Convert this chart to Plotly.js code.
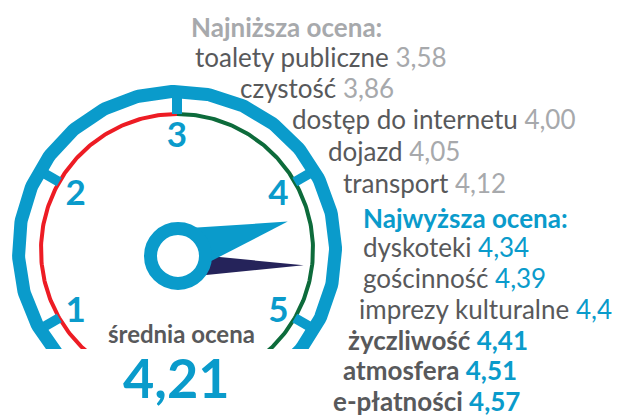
<!DOCTYPE html>
<html><head><meta charset="utf-8">
<script src="https://cdn.plot.ly/plotly-3.0.1.min.js"></script>
<style>html,body{margin:0;padding:0;background:#fff}#chart{width:623px;height:417px}</style>
</head><body><div id="chart"></div>
<script>
// ---- data ----
const tickValues = [0, 1, 2, 3, 4, 5, 6];
const tickLabels = ['', '1', '2', '3', '4', '5', ''];
const averageScore = 4.21;
const averageLabel = '4,21';
const averageTitle = 'średnia ocena';
const maxScore = 4.57;
const lowTitle = 'Najniższa ocena:';
const lowNames = ['toalety publiczne', 'czystość', 'dostęp do internetu', 'dojazd', 'transport'];
const lowValues = ['3,58', '3,86', '4,00', '4,05', '4,12'];
const highTitle = 'Najwyższa ocena:';
const highNames = ['dyskoteki', 'gościnność', 'imprezy kulturalne', 'życzliwość', 'atmosfera', 'e-płatności'];
const highValues = ['4,34', '4,39', '4,4', '4,41', '4,51', '4,57'];
const highBold = [false, false, false, true, true, true];

// ---- layout constants ----
const BLUE = '#0a9bcb', RED = '#ed1c24', GREEN = '#0d6b3b', NAVY = '#25235a';
const NAME = '#58595b', GREYV = '#a7a9ac';
const C = {x: 177, y: 250};          // gauge centre (px units)
const HUB = {x: 178, y: 256};
const R_RING = 158.5, R_ARC = 136, R_LABEL = 117, LABEL_DY = 5, R_T0 = 136, R_T1 = 153;
const angleOf = v => 90 - (v - 3) * 60;   // degrees
const pt = (cx, cy, r, deg) => [cx + r * Math.cos(deg * Math.PI / 180), cy - r * Math.sin(deg * Math.PI / 180)];
function arc(cx, cy, r, a0, a1) {
  const xs = [], ys = [];
  const n = Math.ceil(Math.abs(a1 - a0));
  for (let i = 0; i <= n; i++) { const p = pt(cx, cy, r, a0 + (a1 - a0) * i / n); xs.push(p[0]); ys.push(p[1]); }
  return {xs, ys};
}
const traces = [];
const ring = arc(C.x, C.y, R_RING, -90, 270);
traces.push({x: ring.xs, y: ring.ys, mode: 'lines', line: {color: BLUE, width: 13}, hoverinfo: 'skip'});
const redArc = arc(C.x, C.y, R_ARC, angleOf(3), angleOf(0));
traces.push({x: redArc.xs, y: redArc.ys, mode: 'lines', line: {color: RED, width: 4}, hoverinfo: 'skip'});
const greenArc = arc(C.x, C.y, R_ARC, angleOf(3), angleOf(6));
traces.push({x: greenArc.xs, y: greenArc.ys, mode: 'lines', line: {color: GREEN, width: 4}, hoverinfo: 'skip'});
// ticks
const tx = [], ty = [];
tickValues.forEach(v => { const a = angleOf(v); const p0 = pt(C.x, C.y, R_T0, a), p1 = pt(C.x, C.y, R_T1, a); tx.push(p0[0], p1[0], null); ty.push(p0[1], p1[1], null); });
traces.push({x: tx, y: ty, mode: 'lines', line: {color: BLUE, width: 10}, hoverinfo: 'skip'});
// tick labels
traces.push({
  x: tickValues.map(v => pt(C.x, C.y, R_LABEL, angleOf(v))[0]),
  y: tickValues.map(v => pt(C.x, C.y, R_LABEL, angleOf(v))[1] + LABEL_DY),
  mode: 'text', text: tickLabels.map(t => t ? '<b>' + t + '</b>' : ''), textposition: 'middle center',
  textfont: {family: 'Lato', size: 35, color: BLUE}, hoverinfo: 'skip'
});
// needles
function needle(v, len, up, down, color) {
  const a = angleOf(v);
  const tip = pt(HUB.x, HUB.y, len, a);
  const b1 = pt(HUB.x, HUB.y, up, a + 90), b2 = pt(HUB.x, HUB.y, down, a - 90);
  return {x: [b1[0], tip[0], b2[0], b1[0]], y: [b1[1], tip[1], b2[1], b1[1]], mode: 'lines', fill: 'toself',
    fillcolor: color, line: {width: 0, color: color}, hoverinfo: 'skip'};
}
traces.push(needle(maxScore, 126, 3, 22, NAVY));
traces.push(needle(averageScore, 115, 28, 20, BLUE));

const shapes = [
  {type: 'rect', xref: 'x', yref: 'y', x0: 0, x1: 346, y0: 349, y1: 420, fillcolor: '#fff', line: {width: 0}, layer: 'above'},
  {type: 'circle', xref: 'x', yref: 'y', x0: HUB.x - 27.5, x1: HUB.x + 27.5, y0: HUB.y - 27.5, y1: HUB.y + 27.5,
    line: {color: BLUE, width: 13}, fillcolor: '#fff', layer: 'above'}
];

const F = 'Lato, "Open Sans", sans-serif';
const FS = 26;
const annotations = [];
function ann(x, y, text, size, color) {
  annotations.push({x, y, xref: 'x', yref: 'y', xanchor: 'left', yanchor: 'middle', text, showarrow: false,
    font: {family: F, size, color}, borderpad: 0});
}
const lowX = [194, 239, 291, 327, 342], lowY = [57, 88, 119, 151, 183];
const highX = [362, 362, 358, 347, 342, 332], highY = [247, 278, 309, 340, 370, 401];
ann(190, 27, '<b>' + lowTitle + '</b>', FS, GREYV);
lowNames.forEach((n, i) => ann(lowX[i], lowY[i], n + ' <span style="color:' + GREYV + '">' + lowValues[i] + '</span>', FS, NAME));
ann(362, 218, '<b>' + highTitle + '</b>', FS, BLUE);
highNames.forEach((n, i) => {
  const t = highBold[i] ? '<b>' + n + ' <span style="color:' + BLUE + '">' + highValues[i] + '</span></b>'
                        : n + ' <span style="color:' + BLUE + '">' + highValues[i] + '</span>';
  ann(highX[i], highY[i], t, FS, NAME);
});
annotations.push({x: 181, y: 333, xref: 'x', yref: 'y', xanchor: 'center', yanchor: 'middle', showarrow: false,
  text: '<b>' + averageTitle + '</b>', font: {family: F, size: 24, color: NAME}});
annotations.push({x: 176, y: 377, xref: 'x', yref: 'y', xanchor: 'center', yanchor: 'middle', showarrow: false,
  text: '<b>' + averageLabel + '</b>', font: {family: F, size: 54, color: BLUE}});

Plotly.newPlot('chart', traces, {
  width: 623, height: 417, margin: {l: 0, r: 0, t: 0, b: 0}, showlegend: false,
  paper_bgcolor: '#fff', plot_bgcolor: '#fff',
  xaxis: {range: [0, 623], visible: false, fixedrange: true},
  yaxis: {range: [417, 0], visible: false, fixedrange: true},
  shapes, annotations
}, {staticPlot: true});
</script></body></html>
